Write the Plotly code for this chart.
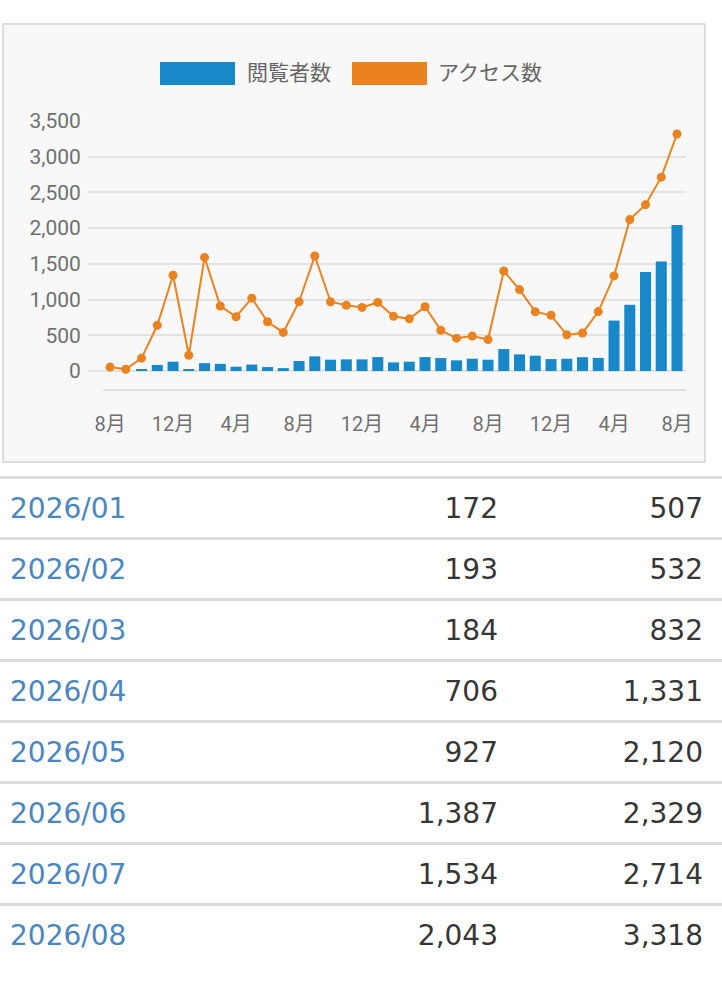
import plotly.graph_objects as go

# 月別データ（2023/08〜2026/08）
months = [
    '2023/08', '2023/09', '2023/10', '2023/11', '2023/12',
    '2024/01', '2024/02', '2024/03', '2024/04', '2024/05', '2024/06',
    '2024/07', '2024/08', '2024/09', '2024/10', '2024/11', '2024/12',
    '2025/01', '2025/02', '2025/03', '2025/04', '2025/05', '2025/06',
    '2025/07', '2025/08', '2025/09', '2025/10', '2025/11', '2025/12',
    '2026/01', '2026/02', '2026/03', '2026/04', '2026/05', '2026/06',
    '2026/07', '2026/08',
]
viewers = [
    0, 0, 15, 85, 130,
    15, 110, 100, 60, 90, 55,
    40, 140, 205, 158, 163, 163,
    195, 121, 130, 195, 181, 149,
    172, 158, 307, 233, 214, 167,
    172, 193, 184, 706, 927, 1387,
    1534, 2043,
]
access = [
    55, 25, 180, 640, 1340,
    220, 1590, 910, 760, 1020, 690,
    540, 970, 1610, 970, 920, 890,
    960, 765, 730, 900, 570, 460,
    490, 440, 1400, 1140, 830, 780,
    507, 532, 832, 1331, 2120, 2329,
    2714, 3318,
]
y_ticks = [0, 500, 1000, 1500, 2000, 2500, 3000, 3500]
tick_months = months[::4]
tick_labels = [f"{int(m[5:])}月" for m in tick_months]

# 表に表示する直近8か月
table_months = months[-8:]
table_viewers = viewers[-8:]
table_access = access[-8:]

blue = '#1888c9'
orange = '#ea8220'
chart_font = 'Roboto, Noto Sans CJK JP'
table_font = 'DejaVu Sans'

W, H = 722, 1000

fig = go.Figure()

# 棒グラフ（閲覧者数）
fig.add_trace(go.Bar(
    x=months, y=viewers, name='閲覧者数',
    marker=dict(color=blue, line_width=0),
    hoverinfo='skip',
))
# 折れ線（アクセス数）
fig.add_trace(go.Scatter(
    x=months, y=access, name='アクセス数', mode='lines+markers',
    line=dict(color=orange, width=2),
    marker=dict(color=orange, size=9),
    hoverinfo='skip',
))

# 表（直近8か月）
n = len(table_months)
rows = list(range(n))
text_rows = [r + 0.05 for r in rows]  # 文字の縦位置を行の中央に合わせる
fig.add_trace(go.Scatter(
    x=[10] * n, y=text_rows, text=table_months, mode='text',
    textposition='middle right',
    textfont=dict(family=table_font, size=28, color='#4a86c0'),
    xaxis='x2', yaxis='y2', hoverinfo='skip',
))
fig.add_trace(go.Scatter(
    x=[498] * n, y=text_rows, text=[f"{v:,}" for v in table_viewers], mode='text',
    textposition='middle left',
    textfont=dict(family=table_font, size=28, color='#363636'),
    xaxis='x2', yaxis='y2', hoverinfo='skip',
))
fig.add_trace(go.Scatter(
    x=[703] * n, y=text_rows, text=[f"{v:,}" for v in table_access], mode='text',
    textposition='middle left',
    textfont=dict(family=table_font, size=28, color='#363636'),
    xaxis='x2', yaxis='y2', hoverinfo='skip',
))

# グラフ枠と凡例
shapes = [
    dict(type='rect', xref='paper', yref='paper', layer='below',
         x0=3 / W, x1=705 / W, y0=1 - 462 / H, y1=1 - 24 / H,
         fillcolor='#f8f8f8', line=dict(color='#d4d4d4', width=1.5)),
    dict(type='line', xref='x', yref='paper',
         x0=-0.44, x1=36.57, y0=1 - 390 / H, y1=1 - 390 / H,
         line=dict(color='#e0e0e0', width=2)),
    dict(type='rect', xref='paper', yref='paper',
         x0=160 / W, x1=235 / W, y0=1 - 85 / H, y1=1 - 62 / H,
         fillcolor=blue, line_width=0),
    dict(type='rect', xref='paper', yref='paper',
         x0=352 / W, x1=427 / W, y0=1 - 85 / H, y1=1 - 62 / H,
         fillcolor=orange, line_width=0),
]
annotations = [
    dict(text='閲覧者数', xref='paper', yref='paper', x=245 / W, y=1 - 73 / H,
         xanchor='left', yanchor='middle', showarrow=False,
         font=dict(family=chart_font, size=21, color='#666666')),
    dict(text='アクセス数', xref='paper', yref='paper', x=436 / W, y=1 - 73 / H,
         xanchor='left', yanchor='middle', showarrow=False,
         font=dict(family=chart_font, size=21, color='#666666')),
]

fig.update_layout(
    width=W, height=H,
    margin=dict(l=0, r=0, t=0, b=0, autoexpand=False),
    paper_bgcolor='white',
    plot_bgcolor='rgba(0,0,0,0)',
    showlegend=False,
    bargap=0.3,
    shapes=shapes,
    annotations=annotations,
    xaxis=dict(
        type='category', domain=[88 / W, 686 / W], range=[-1.4, 36.57],
        tickvals=tick_months, ticktext=tick_labels,
        ticks='outside', ticklen=16, tickcolor='rgba(0,0,0,0)',
        tickfont=dict(family=chart_font, size=20, color='#707070'),
        showgrid=False, showline=False, fixedrange=True, automargin=False,
    ),
    yaxis=dict(
        domain=[1 - 390 / H, 1 - 121 / H], range=[-266, 3500],
        tickvals=y_ticks, tickformat=',',
        ticks='outside', ticklen=2, tickcolor='rgba(0,0,0,0)',
        tickfont=dict(family=chart_font, size=21, color='#707070'),
        gridcolor='#e2e2e2', gridwidth=2,
        zeroline=True, zerolinecolor='#e2e2e2', zerolinewidth=2,
        showline=False, fixedrange=True, automargin=False,
    ),
    xaxis2=dict(
        domain=[0, 1], range=[0, W], anchor='y2',
        visible=False, fixedrange=True, automargin=False,
    ),
    yaxis2=dict(
        domain=[0, 1 - 475 / H], range=[(H - 477) / 61 - 0.5, -0.533],
        anchor='x2', tickvals=[r - 0.5 for r in rows],
        showticklabels=False, ticks='',
        showgrid=True, gridcolor='#dddddd', gridwidth=2.5,
        zeroline=False, showline=False, fixedrange=True, automargin=False,
    ),
)

# ページ既定の余白を消して図を左上に揃える
fig.write_html("out.html", config={'displayModeBar': False},
               post_script="document.body.style.margin='0';")
